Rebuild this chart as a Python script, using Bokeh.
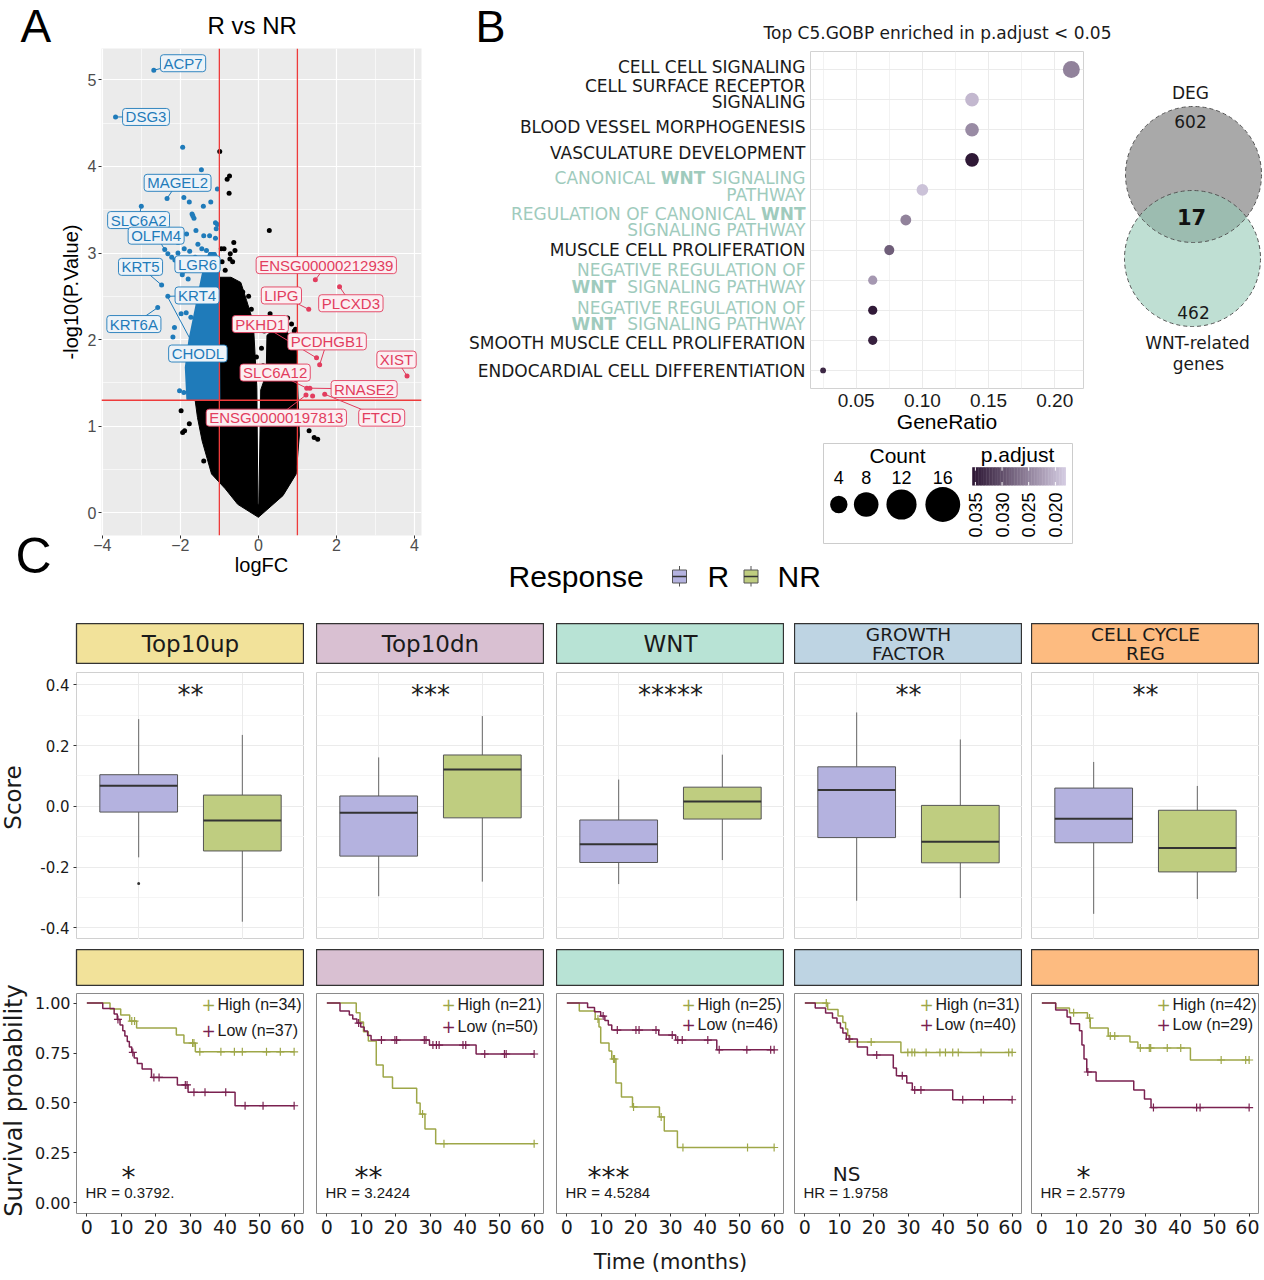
import math
from bokeh.plotting import figure
from bokeh.models import (ColumnDataSource, Range1d, FixedTicker, Label, Spacer, Grid,
                          LinearColorMapper, NumeralTickFormatter)
from bokeh.layouts import row, column
from bokeh.core.properties import value
from bokeh.embed import file_html
from bokeh.resources import INLINE

# =========================== DATA ===========================
# ---- A: volcano, R vs NR ----
volcano_title = "R vs NR"
logfc_cut = 1.0
pval_cut = 0.05
# outline of the dense cloud of non-significant genes (V-shaped cut around logFC ~ 0)
cloud_logfc = [0.0, -0.53, -0.85, -1.2, -1.44, -1.56, -1.62,
               -1.02, -1.02, -0.7, -0.45, -0.3, -0.13, -0.04, -0.012, 0.012, 0.06, 0.2, 0.22,
               0.4, 0.6, 0.85, 0.97, 1.02, 1.05, 0.97, 0.63]
cloud_mlogp = [-0.05, 0.10, 0.28, 0.45, 0.83, 1.10, 1.30,
               1.30, 2.72, 2.72, 2.66, 2.45, 2.20, 1.45, 0.10, 0.10, 1.42, 1.60, 2.05,
               2.12, 2.12, 2.05, 1.90, 1.30, 0.90, 0.45, 0.20]
# outline of the dense cloud of significant down genes
downcloud_logfc = [-1.0, -1.82, -1.86, -1.77, -1.6, -1.43, -1.26, -1.1, -1.02]
downcloud_mlogp = [1.31, 1.31, 1.68, 1.99, 2.37, 2.75, 3.0, 3.0, 2.9]
# individually visible genes
ns_logfc = [-0.99, -0.80, -0.74, -0.75, 0.28, -0.63, -0.60, -0.95, -0.88, -0.72, -0.73, -0.66,
            -0.93, -0.55, -0.50, -0.46, -1.94, -1.77, 1.43, 1.52, 1.20, 1.30, 0.62, 0.75, 0.85,
            0.50, 0.35, -0.85, -0.40, 0.92, -1.98, -1.89, -1.40, 0.08, 0.12, -0.05, 0.15,
            -0.25, -0.18, 0.30, 0.95]
ns_mlogp = [4.17, 3.85, 3.89, 3.69, 3.26, 3.12, 3.03, 3.05, 3.05, 2.99, 2.93, 2.90,
            2.90, 2.62, 2.58, 2.55, 0.93, 1.03, 0.87, 0.85, 1.10, 0.95, 2.22, 2.25, 2.18,
            2.24, 2.20, 2.80, 2.55, 2.10, 1.18, 0.95, 0.60, 1.90, 1.70, 1.80, 2.10,
            2.50, 2.35, 2.30, 2.12]
down_logfc = [-2.68, -3.66, -1.94, -1.46, -2.34, -3.00, -1.91, -1.77, -1.41, -1.22, -1.05,
              -1.70, -1.65, -1.68, -1.10, -1.08, -1.05, -1.60, -1.84, -1.40, -1.25, -1.10,
              -2.06, -1.90, -2.06, -1.76, -1.45, -1.33, -2.40, -2.32, -2.22, -2.14, -2.48,
              -2.32, -2.58, -2.15, -2.19, -2.10, -2.06, -2.02, -1.91, -1.98, -1.85, -1.73,
              -1.95, -1.80, -1.70, -1.62, -1.55]
down_mlogp = [5.11, 4.57, 4.22, 3.96, 3.63, 3.54, 3.64, 3.59, 3.54, 3.59, 3.74,
              3.45, 3.40, 3.43, 3.35, 3.28, 3.33, 3.26, 3.22, 3.20, 3.20, 3.17,
              3.12, 3.05, 3.00, 3.02, 3.05, 3.03, 3.04, 2.99, 2.95, 2.92, 2.63,
              2.50, 2.37, 2.14, 2.03, 1.91, 1.78, 1.41, 1.39, 2.30, 2.31, 2.26,
              2.75, 2.70, 2.85, 2.95, 3.10]
up_logfc = [1.46, 2.08, 1.29, 1.49, 1.57, 1.24, 1.32, 1.22, 1.39, 1.70, 3.81]
up_mlogp = [2.69, 2.61, 2.35, 1.79, 1.71, 1.44, 1.44, 1.36, 1.35, 1.37, 1.58]
gene_names = ["ACP7", "DSG3", "MAGEL2", "SLC6A2", "OLFM4", "KRT5", "LGR6", "KRT4", "KRT6A", "CHODL",
              "ENSG00000212939", "LIPG", "PLCXD3", "PKHD1", "PCDHGB1", "XIST", "SLC6A12",
              "RNASE2", "ENSG00000197813", "FTCD"]
gene_dir = ["down"] * 10 + ["up"] * 10
gene_logfc = [-2.68, -3.66, -2.34, -3.00, -2.40, -2.48, -1.95, -2.32, -2.58, -2.31,
              1.46, 1.29, 2.08, 1.49, 1.57, 3.81, 1.24, 1.32, 1.22, 1.70]
gene_mlogp = [5.11, 4.57, 3.63, 3.54, 3.04, 2.63, 2.75, 2.50, 2.37, 2.48,
              2.69, 2.35, 2.61, 1.79, 1.71, 1.58, 1.44, 1.44, 1.36, 1.37]

# ---- B: GO enrichment ----
go_title = "Top C5.GOBP enriched in p.adjust < 0.05"
go_terms = [["CELL CELL SIGNALING"], ["CELL SURFACE RECEPTOR", "SIGNALING"],
            ["BLOOD VESSEL MORPHOGENESIS"], ["VASCULATURE DEVELOPMENT"],
            ["CANONICAL WNT SIGNALING", "PATHWAY"], ["REGULATION OF CANONICAL WNT", "SIGNALING PATHWAY"],
            ["MUSCLE CELL PROLIFERATION"], ["NEGATIVE REGULATION OF", "WNT SIGNALING PATHWAY"],
            ["NEGATIVE REGULATION OF", "WNT SIGNALING PATHWAY"], ["SMOOTH MUSCLE CELL PROLIFERATION"],
            ["ENDOCARDIAL CELL DIFFERENTIATION"]]
go_ratio = [0.2125, 0.1375, 0.1375, 0.1375, 0.1000, 0.0875, 0.0750, 0.0625, 0.0625, 0.0625, 0.0250]
go_count = [17, 11, 11, 11, 8, 7, 6, 5, 5, 5, 2]
go_padj = [0.0251, 0.0199, 0.0242, 0.0352, 0.0190, 0.0251, 0.0286, 0.0230, 0.0351, 0.0345, 0.0338]
count_legend = [4, 8, 12, 16]
padj_ticks = [0.035, 0.030, 0.025, 0.020]
padj_lim = [0.0181, 0.0356]

# ---- Venn ----
venn_sets = ["DEG", "WNT-related", "genes"]
venn_only_deg = 602
venn_both = 17
venn_only_wnt = 462

# ---- C: scores ----
facet_lines = [["Top10up"], ["Top10dn"], ["WNT"], ["GROWTH", "FACTOR"], ["CELL CYCLE", "REG"]]
strip_colors = ["#F2E29A", "#D9C0D2", "#B8E3D5", "#BED4E3", "#FDBB80"]
groups = ["R", "NR"]
group_colors = ["#B4B2DF", "#BFCD80"]
box_lo = [[-0.168, -0.380], [-0.296, -0.248], [-0.256, -0.177], [-0.311, -0.302], [-0.354, -0.305]]
box_q1 = [[-0.019, -0.147], [-0.164, -0.038], [-0.185, -0.042], [-0.103, -0.186], [-0.120, -0.216]]
box_med = [[0.068, -0.047], [-0.021, 0.121], [-0.125, 0.016], [0.054, -0.117], [-0.041, -0.137]]
box_q3 = [[0.104, 0.037], [0.034, 0.169], [-0.045, 0.063], [0.130, 0.003], [0.060, -0.013]]
box_hi = [[0.287, 0.235], [0.161, 0.297], [0.088, 0.170], [0.309, 0.220], [0.146, 0.067]]
box_out = [[[-0.254], []], [[], []], [[], []], [[], []], [[], []]]
box_sig = ["**", "***", "*****", "**", "**"]

# ---- C: survival ----
km_hi_t = [[6.7, 9.8, 12.4, 14.4, 25.9, 28.1, 31.4],
           [8.5, 9.6, 10.6, 12.0, 14.3, 16.3, 19.0, 26.0, 27.0, 28.4, 31.5],
           [3.6, 8.2, 9.3, 9.8, 12.2, 13.0, 14.2, 15.8, 19.0, 26.8, 28.2, 32.0],
           [6.6, 9.6, 11.0, 11.8, 12.4, 13.0, 27.8],
           [4.0, 8.0, 13.2, 14.0, 19.2, 25.5, 27.8, 43.0]]
km_hi_s = [[0.970, 0.940, 0.910, 0.875, 0.840, 0.800, 0.756],
           [0.952, 0.905, 0.857, 0.810, 0.690, 0.630, 0.573, 0.500, 0.444, 0.370, 0.296],
           [0.960, 0.920, 0.880, 0.800, 0.760, 0.720, 0.600, 0.530, 0.480, 0.430, 0.360, 0.277],
           [0.968, 0.935, 0.903, 0.870, 0.838, 0.805, 0.753],
           [0.976, 0.952, 0.925, 0.875, 0.835, 0.805, 0.775, 0.715]]
km_hi_c = [[13.0, 13.8, 30.6, 31.0, 32.7, 38.8, 42.7, 45.0, 52.0, 56.0, 60.0],
           [27.7, 33.9, 60.0],
           [9.0, 13.5, 13.8, 19.3, 27.3, 33.6, 52.3, 60.0],
           [6.2, 19.2, 29.8, 31.0, 31.8, 35.1, 39.1, 40.7, 42.8, 44.4, 51.0, 59.0, 60.0],
           [9.2, 13.8, 19.8, 21.1, 28.5, 31.1, 31.5, 36.3, 40.2, 51.9, 59.0, 60.0]]
km_lo_t = [[4.6, 7.9, 8.8, 9.6, 10.4, 11.0, 11.7, 12.3, 13.0, 13.7, 14.6, 16.0, 18.7, 26.2, 29.3, 42.9],
           [3.8, 6.5, 7.5, 8.7, 9.8, 10.8, 11.8, 12.8, 29.7, 43.2],
           [6.0, 8.0, 9.8, 11.0, 12.0, 13.0, 26.6, 31.5, 43.4],
           [3.0, 6.0, 8.0, 9.3, 10.3, 11.0, 12.0, 15.2, 18.1, 25.6, 26.5, 29.5, 31.1, 42.8],
           [4.0, 7.3, 8.3, 10.9, 11.6, 12.2, 13.0, 15.7, 26.6, 29.7, 31.6]]
km_lo_s = [[0.973, 0.945, 0.918, 0.890, 0.862, 0.835, 0.808, 0.780, 0.753, 0.725, 0.698, 0.670, 0.628, 0.590, 0.553, 0.486],
           [0.960, 0.940, 0.920, 0.900, 0.880, 0.860, 0.838, 0.815, 0.790, 0.745],
           [0.978, 0.957, 0.935, 0.913, 0.890, 0.865, 0.840, 0.815, 0.766],
           [0.975, 0.950, 0.925, 0.900, 0.875, 0.850, 0.820, 0.780, 0.740, 0.675, 0.636, 0.600, 0.565, 0.516],
           [0.965, 0.930, 0.896, 0.862, 0.790, 0.720, 0.655, 0.610, 0.565, 0.520, 0.477]]
km_lo_c = [[9.0, 13.3, 19.4, 20.9, 28.5, 29.0, 31.0, 34.2, 40.2, 45.8, 51.0, 60.0],
           [9.2, 15.8, 19.7, 20.2, 28.2, 28.7, 30.7, 31.7, 32.5, 39.4, 40.2, 45.7, 51.4, 51.9, 60.0],
           [10.5, 14.6, 20.0, 20.9, 25.8, 30.5, 32.1, 33.4, 40.8, 44.1, 52.1, 59.0, 60.0],
           [12.8, 20.8, 28.2, 31.8, 33.6, 45.7, 51.7, 60.0],
           [13.3, 32.3, 44.8, 45.8, 60.0]]
km_n_hi = [34, 21, 25, 31, 42]
km_n_lo = [37, 50, 46, 40, 29]
km_hr = ["0.3792.", "3.2424", "4.5284", "1.9758", "2.5779"]
km_sig = ["*", "**", "***", "NS", "*"]
km_tmax = 60.0

# =========================== STYLE / HELPERS ===========================
DJV = "DejaVu Sans"
LIB = "Liberation Sans"
BLUE = "#1F7BBA"
RED = "#E23D5E"
WNT_GREEN = "#9FCBBD"
HI_COL = "#9EA748"
LO_COL = "#7A2150"

ADV = {' ': 651, 'A': 1401, 'B': 1405, 'C': 1430, 'D': 1577, 'E': 1294, 'F': 1178, 'G': 1587,
       'H': 1540, 'I': 604, 'J': 604, 'K': 1343, 'L': 1141, 'M': 1767, 'N': 1532, 'O': 1612,
       'P': 1235, 'Q': 1612, 'R': 1423, 'S': 1300, 'T': 1251, 'U': 1499, 'V': 1401, 'W': 2025,
       'X': 1403, 'Y': 1251, 'Z': 1403}


def text_w(s, fs, bold=False):
    return sum(ADV.get(c, 1300) for c in s) / 2048.0 * fs * (1.10 if bold else 1.0)


def new_fig(w, h, xr, yr, left=0, right=0, top=0, bottom=0, xloc=None, yloc=None):
    p = figure(width=w, height=h, x_range=xr, y_range=yr, output_backend="svg",
               toolbar_location=None, tools="", x_axis_location=xloc, y_axis_location=yloc,
               min_border_left=left, min_border_right=right, min_border_top=top,
               min_border_bottom=bottom)
    p.border_fill_color = "white"
    p.background_fill_color = "white"
    p.outline_line_color = None
    p.grid.visible = False
    return p


def pix_fig(w, h):
    return new_fig(w, h, Range1d(0, w), Range1d(0, h))


def W(p):
    # isolate a figure so that layouts do not align its frame with its neighbours
    return column(p)


def lab(p, x, y, text, size, font=DJV, color="#1A1A1A", align="center", baseline="middle",
        style="normal", angle=0.0, xu="screen", yu="screen"):
    p.add_layout(Label(x=x, y=y, x_units=xu, y_units=yu, text=text, text_font=font,
                       text_font_size=f"{size}px", text_color=color, text_align=align,
                       text_baseline=baseline, text_font_style=style, angle=angle))


def txt(p, x, y, text, size, font=DJV, color="#1A1A1A", align="center", baseline="middle",
        style="normal", angle=0.0):
    p.text(x=[x], y=[y], text=[text], text_font=value(font), text_font_size=f"{size}px",
           text_color=color, text_align=align, text_baseline=baseline,
           text_font_style=style, angle=angle)


def add_grid(p, dim, ticks, minor, color, minor_color):
    g = Grid(dimension=dim, ticker=FixedTicker(ticks=ticks, minor_ticks=minor),
             grid_line_color=color, grid_line_width=1,
             minor_grid_line_color=minor_color if minor else None, minor_grid_line_width=1)
    p.add_layout(g)
    return g


def style_axis(ax, font, size, color, tick_out=3, standoff=3):
    ax.axis_line_color = None
    ax.major_tick_line_color = "#333333" if tick_out > 0 else None
    ax.major_tick_out = tick_out
    ax.major_tick_in = 0
    ax.minor_tick_line_color = None
    ax.major_label_text_font = font
    ax.major_label_text_font_size = f"{size}px"
    ax.major_label_text_color = color
    ax.major_label_standoff = standoff
    ax.axis_label_text_font_style = "normal"


def lerp_hex(c1, c2, n):
    a = [int(c1[i:i + 2], 16) for i in (1, 3, 5)]
    b = [int(c2[i:i + 2], 16) for i in (1, 3, 5)]
    out = []
    for k in range(n):
        t = k / (n - 1)
        out.append("#%02x%02x%02x" % tuple(int(round(a[j] + (b[j] - a[j]) * t)) for j in range(3)))
    return out


padj_palette = lerp_hex("#D4CBE1", "#2C1533", 256)   # low p.adjust -> light, high -> dark
padj_mapper = LinearColorMapper(palette=padj_palette, low=padj_lim[0], high=padj_lim[1])

# =========================== panel letters A / C ===========================
pL0 = pix_fig(56, 600)
txt(pL0, 20, 574.3, "A", 46, font=LIB, color="black", align="left")
txt(pL0, 15, 44.5, "C", 50, font=LIB, color="black", align="left")

# =========================== A: VOLCANO ===========================
A_XR = (-4.02, 4.18)
A_YR = (-0.26, 5.36)
pA = new_fig(384, 600, Range1d(*A_XR), Range1d(*A_YR), left=40, right=19, top=48, bottom=65,
             xloc="below", yloc="left")
pA.background_fill_color = "#EBEBEB"
pA.title.text = volcano_title
pA.title.align = "left"
pA.title.offset = 106
pA.title.standoff = 19
pA.title.text_font = LIB
pA.title.text_font_size = "24px"
pA.title.text_font_style = "normal"
pA.title.text_color = "black"
pA.xaxis.ticker = FixedTicker(ticks=[-4, -2, 0, 2, 4])
pA.yaxis.ticker = FixedTicker(ticks=[0, 1, 2, 3, 4, 5])
gx = add_grid(pA, 0, [-4, -2, 0, 2, 4], [-3, -1, 1, 3], "white", "white")
gy = add_grid(pA, 1, [0, 1, 2, 3, 4, 5], [0.5, 1.5, 2.5, 3.5, 4.5], "white", "white")
for g in (gx, gy):
    g.grid_line_width = 1.2
    g.minor_grid_line_width = 0.6
for ax in (pA.xaxis, pA.yaxis):
    style_axis(ax, LIB, 16, "#4D4D4D", tick_out=3, standoff=2)
    ax.axis_label_text_font = LIB
    ax.axis_label_text_font_size = "20px"
    ax.axis_label_text_color = "black"
pA.xaxis.major_label_standoff = 0
pA.xaxis.axis_label = "logFC"
pA.yaxis.axis_label = "-log10(P.Value)"
pA.xaxis.axis_label_standoff = 0
pA.yaxis.axis_label_standoff = 3

pA.patch(cloud_logfc, cloud_mlogp, fill_color="black", line_color="black", line_width=1)
pA.patch(downcloud_logfc, downcloud_mlogp, fill_color=BLUE, line_color=BLUE, line_width=2)
pA.scatter(ns_logfc, ns_mlogp, size=5, fill_color="black", line_color=None)
pA.scatter(down_logfc, down_mlogp, size=5, fill_color=BLUE, line_color=None)
pA.scatter(up_logfc, up_mlogp, size=5, fill_color=RED, line_color=None)
thr = -math.log10(pval_cut)
pA.segment(x0=[-logfc_cut, logfc_cut], y0=[A_YR[0]] * 2, x1=[-logfc_cut, logfc_cut], y1=[A_YR[1]] * 2,
           line_color="#EE3B3B", line_width=1.3)
pA.segment(x0=[A_XR[0]], y0=[thr], x1=[A_XR[1]], y1=[thr], line_color="#EE3B3B", line_width=1.3)

# repel-style label positions (layout)
label_x = [-1.93, -2.88, -2.07, -3.07, -2.62, -3.02, -1.56, -1.57, -3.19, -1.55,
           1.74, 0.59, 2.37, 0.05, 1.76, 3.54, 0.43, 2.71, 0.46, 3.16]
label_y = [5.19, 4.57, 3.81, 3.38, 3.20, 2.84, 2.87, 2.51, 2.18, 1.84,
           2.86, 2.51, 2.42, 2.18, 1.98, 1.77, 1.62, 1.43, 1.10, 1.10]
lab_col = [BLUE if d == "down" else RED for d in gene_dir]
lab_fill = ["#EDF3F8" if d == "down" else "#FBEFF2" for d in gene_dir]
pA.segment(x0=gene_logfc, y0=gene_mlogp, x1=label_x, y1=label_y, line_color=lab_col, line_width=1)
lsrc = ColumnDataSource(dict(x=label_x, y=label_y, text=gene_names, col=lab_col, fill=lab_fill))
try:
    pA.text(x="x", y="y", text="text", source=lsrc, text_font=value(LIB), text_font_size="15px",
            text_color="col", text_align="center", text_baseline="middle",
            background_fill_color="fill", border_line_color="col", border_line_width=0.9,
            padding=(3, 0), border_radius=3)
except Exception:
    pA.text(x="x", y="y", text="text", source=lsrc, text_font=value(LIB), text_font_size="15px",
            text_color="col", text_align="center", text_baseline="middle")

# =========================== B: GO DOT PLOT ===========================
# header (letter B + title), spanning the dot plot and the Venn diagram
HB_H = 51
pHB = pix_fig(822, HB_H)
txt(pHB, 35, HB_H - 25.5, "B", 45, font=LIB, color="black", align="left")
txt(pHB, 497, HB_H - 32, go_title, 17, font=DJV, color="#1A1A1A")

B_XR = (0.0155, 0.2217)
rows = list(range(1, len(go_terms) + 1))
B_TOP, B_BOT = 0.4, len(go_terms) + 0.6
B_FRAME_TOP = 51.0
B_FRAME_H = 337.0
B_PX = B_FRAME_H / (B_BOT - B_TOP)
B_H = 440 - HB_H
pB = new_fig(278, B_H, Range1d(*B_XR), Range1d(B_BOT, B_TOP), left=0, right=5, top=0,
             bottom=52, xloc="below", yloc=None)
pB.outline_line_color = "#D2D2D2"
pB.xaxis.ticker = FixedTicker(ticks=[0.05, 0.10, 0.15, 0.20])
pB.xaxis.formatter = NumeralTickFormatter(format="0.00")
style_axis(pB.xaxis, LIB, 19, "#1A1A1A", tick_out=0, standoff=5)
pB.xaxis.axis_label = "GeneRatio"
pB.xaxis.axis_label_text_font = LIB
pB.xaxis.axis_label_text_font_size = "21px"
pB.xaxis.axis_label_text_color = "black"
pB.xaxis.axis_label_standoff = 0
add_grid(pB, 0, [0.05, 0.10, 0.15, 0.20], [0.025, 0.075, 0.125, 0.175], "#EBEBEB", "#F2F2F2")
add_grid(pB, 1, rows, [], "#EBEBEB", None)
gsrc = ColumnDataSource(dict(x=go_ratio, y=rows, size=[4.12 * math.sqrt(c) for c in go_count],
                             padj=go_padj))
pB.scatter(x="x", y="y", size="size", source=gsrc,
           fill_color={"field": "padj", "transform": padj_mapper}, line_color=None)

# category labels panel, sharing the dot plot's row scale
pBL = new_fig(370, B_H, Range1d(0, 370), Range1d(B_BOT + 52 / B_PX, B_TOP))
# vertical centre (page px) of every text line of the axis labels (layout)
term_line_px = [[66.5], [85.0, 101.7], [126.5], [152.7], [177.8, 194.5], [213.0, 229.7],
                [249.7], [269.7, 286.3], [307.0, 323.7], [342.0], [370.0]]


def seg_words(line):
    segs = []
    for w in line.split(" "):
        b = (w == "WNT")
        if segs and segs[-1][1] == b:
            segs[-1][0] += " " + w
        else:
            segs.append([w, b])
    return segs


for i, lines in enumerate(go_terms):
    col = WNT_GREEN if any("WNT" in l for l in lines) else "#1A1A1A"
    for j, line in enumerate(lines):
        yy = B_TOP + (term_line_px[i][j] - B_FRAME_TOP) / B_PX
        segs = seg_words(line)
        xr = 365.0
        for t_, bold in reversed(segs):
            txt(pBL, xr, yy, t_, 17, font=DJV, color=col, align="right", baseline="middle",
                style="bold" if bold else "normal")
            xr -= text_w(t_, 17, bold) + 6.5

# ---- legend + Response figure (below the dot plot) ----
pL = pix_fig(648, 160)
pL.quad(left=[383], right=[632], bottom=[57], top=[157], fill_color=None, line_color="#CCCCCC",
        line_width=1)
txt(pL, 457, 145, "Count", 21, font=LIB, color="black")
cnt_x = [398.3, 425.7, 461.0, 502.3]
for cx, c in zip(cnt_x, count_legend):
    txt(pL, cx, 123, str(c), 18, font=LIB, color="black")
pL.scatter(x=cnt_x, y=[96] * 4, size=[8.7 * math.sqrt(c) for c in count_legend],
           fill_color="black", line_color=None)
txt(pL, 577, 146, "p.adjust", 21, font=LIB, color="black")
cb_l, cb_r, cb_b, cb_t = 531.7, 625.0, 115.0, 133.3
nsl = 60
vals = [padj_lim[1] - (k + 0.5) / nsl * (padj_lim[1] - padj_lim[0]) for k in range(nsl)]
lefts = [cb_l + k * (cb_r - cb_l) / nsl for k in range(nsl)]
rights = [cb_l + (k + 1) * (cb_r - cb_l) / nsl + 0.4 for k in range(nsl)]
csrc = ColumnDataSource(dict(l=lefts, r=rights, v=vals))
pL.quad(left="l", right="r", bottom=cb_b, top=cb_t, source=csrc,
        fill_color={"field": "v", "transform": padj_mapper}, line_color=None)
tick_x = [cb_l + (padj_lim[1] - v) / (padj_lim[1] - padj_lim[0]) * (cb_r - cb_l) for v in padj_ticks]
pL.segment(x0=tick_x, y0=[cb_t - 3.5] * 4, x1=tick_x, y1=[cb_t] * 4, line_color="white", line_width=1)
pL.segment(x0=tick_x, y0=[cb_b] * 4, x1=tick_x, y1=[cb_b + 3.5] * 4, line_color="white", line_width=1)
for tx, v in zip(tick_x, padj_ticks):
    txt(pL, tx, 108, "%.3f" % v, 18, font=LIB, color="black", align="right", baseline="middle",
        angle=math.pi / 2)
# Response legend
txt(pL, 68, 24, "Response", 30, font=LIB, color="black", align="left")
for kx, gname, gcol, tx in zip([239.0, 310.5], groups, group_colors, [267.0, 337.0]):
    pL.segment(x0=[kx, kx], y0=[30.5, 14.0], x1=[kx, kx], y1=[34.5, 17.5], line_color="#555555",
               line_width=1)
    pL.quad(left=[kx - 7], right=[kx + 7], bottom=[17.5], top=[30.5], fill_color=gcol,
            line_color="#555555", line_width=1)
    pL.segment(x0=[kx - 7], y0=[24], x1=[kx + 7], y1=[24], line_color="#333333", line_width=1.5)
    txt(pL, tx, 24, gname, 30, font=LIB, color="black", align="left")

# =========================== VENN ===========================
pV = pix_fig(174, 600 - HB_H)
c_deg = (105.0, 426.0)
c_wnt = (104.0, 342.0)
rad = 68.0
pV.circle(x=[c_deg[0]], y=[c_deg[1]], radius=rad, fill_color="#8C8C8C", fill_alpha=0.75, line_color=None)
pV.circle(x=[c_wnt[0]], y=[c_wnt[1]], radius=rad, fill_color="#94C9B5", fill_alpha=0.6, line_color=None)
pV.circle(x=[c_deg[0], c_wnt[0]], y=[c_deg[1], c_wnt[1]], radius=rad, fill_color=None,
          line_color="#555555", line_width=1, line_dash="4 3")
txt(pV, 102, 508, venn_sets[0], 17)
txt(pV, 102, 479, str(venn_only_deg), 17)
txt(pV, 103, 384, str(venn_both), 21, color="#111111", style="bold")
txt(pV, 105, 288, str(venn_only_wnt), 17)
txt(pV, 109, 258, venn_sets[1], 17)
txt(pV, 110, 237, venn_sets[2], 17)

# =========================== C: left titles ===========================
pL2 = pix_fig(28, 679)
txt(pL2, 12.5, 482, "Score", 23, angle=math.pi / 2)
txt(pL2, 13.5, 179, "Survival probability", 24, angle=math.pi / 2)

# =========================== C: BOXPLOTS ===========================
FW = 228
LEFT0 = 48
GAPS = [12, 12, 10, 9]
BOX_YR = (-0.4385, 0.4405)
box_cols = []
for i in range(len(facet_lines)):
    first = (i == 0)
    lb = LEFT0 if first else 0
    w = FW + lb
    ps = new_fig(w, 41, Range1d(0, 1), Range1d(0, 1), left=lb)
    ps.background_fill_color = strip_colors[i]
    ps.outline_line_color = "#333333"
    ps.outline_line_width = 1.3
    lines = facet_lines[i]
    if len(lines) == 1:
        txt(ps, 0.5, 0.5, lines[0], 23)
    else:
        txt(ps, 0.5, 0.724, lines[0], 18.5)
        txt(ps, 0.5, 0.28, lines[1], 18.5)

    pb = new_fig(w, 267, Range1d(0.4, 2.6), Range1d(*BOX_YR), left=lb,
                 yloc="left" if first else None)
    pb.outline_line_color = "#D0D0D0"
    add_grid(pb, 1, [-0.4, -0.2, 0.0, 0.2, 0.4], [-0.3, -0.1, 0.1, 0.3], "#EBEBEB", "#F5F5F5")
    add_grid(pb, 0, [1, 2], [], "#EBEBEB", None)
    if first:
        pb.yaxis.ticker = FixedTicker(ticks=[-0.4, -0.2, 0.0, 0.2, 0.4])
        pb.yaxis.formatter = NumeralTickFormatter(format="0.0")
        style_axis(pb.yaxis, DJV, 15, "#1A1A1A", tick_out=3, standoff=4)
    xs = [1, 2]
    hw = 0.375
    pb.segment(x0=xs, y0=box_q3[i], x1=xs, y1=box_hi[i], line_color="#666666", line_width=1)
    pb.segment(x0=xs, y0=box_lo[i], x1=xs, y1=box_q1[i], line_color="#666666", line_width=1)
    pb.quad(left=[x - hw for x in xs], right=[x + hw for x in xs], bottom=box_q1[i], top=box_q3[i],
            fill_color=group_colors, line_color="#555555", line_width=1)
    pb.segment(x0=[x - hw for x in xs], y0=box_med[i], x1=[x + hw for x in xs], y1=box_med[i],
               line_color="#333333", line_width=2)
    for x, outs in zip(xs, box_out[i]):
        if outs:
            pb.scatter([x] * len(outs), outs, size=3, fill_color="#333333", line_color=None)
    pb.text(x=[1.5], y=[0.365], text=[box_sig[i]], text_font=value(DJV), text_font_size="26px",
            text_color="#1A1A1A", text_align="center", text_baseline="alphabetic")
    box_cols.append(column(Spacer(width=w, height=23), W(ps), Spacer(width=w, height=8), W(pb),
                           Spacer(width=w, height=6)))

box_row_children = [box_cols[0]]
for g, c in zip(GAPS, box_cols[1:]):
    box_row_children += [Spacer(width=g, height=345), c]
box_row = row(*box_row_children)

# =========================== C: SURVIVAL ===========================
KM_XR = (-3.0, 63.0)
KM_YR = (-0.0536, 1.048)
KM_H = 220
KM_BOT = 66
low_off = [36.6, 33.3, 30.6, 30.6, 30.6]


def surv_at(c, t, s):
    v = 1.0
    for tt, ss in zip(t, s):
        if tt <= c:
            v = ss
    return v


km_cols = []
for i in range(len(facet_lines)):
    first = (i == 0)
    lb = LEFT0 if first else 0
    w = FW + lb
    ps = new_fig(w, 37, Range1d(0, 1), Range1d(0, 1), left=lb)
    ps.background_fill_color = strip_colors[i]
    ps.outline_line_color = "#333333"
    ps.outline_line_width = 1.3

    pk = new_fig(w, KM_H + KM_BOT, Range1d(*KM_XR), Range1d(*KM_YR), left=lb, bottom=KM_BOT,
                 xloc="below", yloc="left" if first else None)
    pk.outline_line_color = "#8A8A8A"
    pk.xaxis.ticker = FixedTicker(ticks=[0, 10, 20, 30, 40, 50, 60])
    style_axis(pk.xaxis, DJV, 19, "#1A1A1A", tick_out=3, standoff=3)
    if i == 2:
        pk.xaxis.axis_label = "Time (months)"
        pk.xaxis.axis_label_text_font = DJV
        pk.xaxis.axis_label_text_font_size = "21px"
        pk.xaxis.axis_label_text_color = "#1A1A1A"
        pk.xaxis.axis_label_standoff = 13
    if first:
        pk.yaxis.ticker = FixedTicker(ticks=[0.0, 0.25, 0.5, 0.75, 1.0])
        pk.yaxis.formatter = NumeralTickFormatter(format="0.00")
        style_axis(pk.yaxis, DJV, 16, "#1A1A1A", tick_out=3, standoff=3)
    for t, s, cens, colr in ((km_hi_t[i], km_hi_s[i], km_hi_c[i], HI_COL),
                             (km_lo_t[i], km_lo_s[i], km_lo_c[i], LO_COL)):
        pk.step([0.0] + t + [km_tmax], [1.0] + s + [s[-1]], mode="after", line_color=colr,
                line_width=1.5)
        pk.scatter(cens, [surv_at(c, t, s) for c in cens], marker="cross", size=8,
                   line_color=colr, line_width=1.2)
    # legend
    lab(pk, 132, KM_H - 10.6, "+", 17, color=HI_COL)
    lab(pk, 141, KM_H - 10.6, "High (n=%d)" % km_n_hi[i], 16, font=LIB, align="left")
    lab(pk, 132, KM_H - low_off[i], "+", 17, color=LO_COL)
    lab(pk, 141, KM_H - low_off[i], "Low (n=%d)" % km_n_lo[i], 16, font=LIB, align="left")
    lab(pk, 9, 21, "HR = " + km_hr[i], 15, font=LIB, align="left")
    if km_sig[i] == "NS":
        lab(pk, 52, 39.7, km_sig[i], 20)
    else:
        lab(pk, 52, 36.5, km_sig[i], 28, baseline="alphabetic")
    km_cols.append(column(Spacer(width=w, height=4), W(ps), Spacer(width=w, height=7), W(pk)))

km_row_children = [km_cols[0]]
for g, c in zip(GAPS, km_cols[1:]):
    km_row_children += [Spacer(width=g, height=KM_H + KM_BOT + 48), c]
km_row = row(*km_row_children)

colB = column(W(pHB), row(column(row(W(pBL), W(pB)), W(pL)), W(pV)))
top_row = row(W(pL0), W(pA), colB)
bottom = row(W(pL2), column(box_row, km_row))
page = column(top_row, bottom)

with open("out.html", "w") as f:
    f.write(file_html(page, INLINE, title="R vs NR"))
